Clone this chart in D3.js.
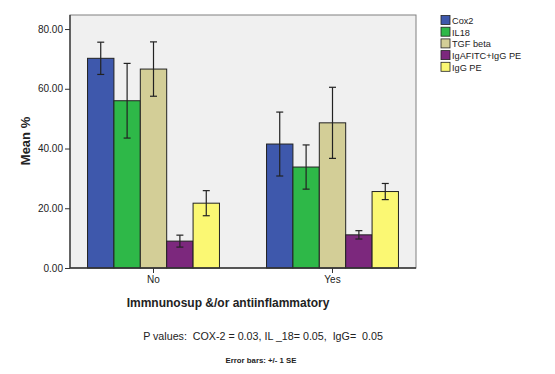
<!DOCTYPE html>
<html lang="en">
<head>
<meta charset="UTF-8">
<title>Mean % by Immnunosup</title>
<script src="https://d3js.org/d3.v7.min.js"></script>
<style>
  body { margin:0; background:#fff; }
  text { font-family: "Liberation Sans", Arial, sans-serif; fill:#222; white-space: pre; }
  .bold { font-weight:bold; }
</style>
</head>
<body>
<script>
var groups = ["No", "Yes"];
var series = ["Cox2", "IL18", "TGF beta", "IgAFITC+IgG PE", "IgG PE"];
var colors = ["#3e58ac", "#2eb848", "#d3ce97", "#7c287d", "#fbf873"];
// mean per series, one value per group
var meanNo  = [70.2, 56.0, 66.6, 9.0, 21.7];
var meanYes = [41.5, 33.8, 48.6, 11.1, 25.6];
// standard error
var seNo  = [5.4, 12.5, 9.1, 2.0, 4.2];
var seYes = [10.7, 7.4, 11.9, 1.4, 2.7];
var yTicks = [0, 20, 40, 60, 80];

var width = 555, height = 374;
var plotLeft = 70, plotTop = 15, plotRight = 416, plotBottom = 268;

var svg = d3.select("body").append("svg")
    .attr("width", width).attr("height", height);

var x0 = d3.scaleBand().domain(groups).range([plotLeft, plotRight])
    .paddingInner(0.263).paddingOuter(0.098);
var x1 = d3.scaleBand().domain(series).range([0, x0.bandwidth()]);
var y = d3.scaleLinear().domain([0, 84.7]).range([plotBottom, plotTop]);

// plot background
svg.append("rect")
    .attr("x", plotLeft).attr("y", plotTop)
    .attr("width", plotRight - plotLeft).attr("height", plotBottom - plotTop)
    .attr("fill", "#f0f0f0").attr("stroke", "#808080").attr("stroke-width", 1);

var data = [];
groups.forEach(function(g, gi) {
  var m = gi == 0 ? meanNo : meanYes;
  var s = gi == 0 ? seNo : seYes;
  series.forEach(function(name, i) {
    data.push({group: g, name: name, color: colors[i], mean: m[i], se: s[i]});
  });
});

svg.append("g").selectAll("rect").data(data).enter().append("rect")
    .attr("x", function(d){ return x0(d.group) + x1(d.name); })
    .attr("y", function(d){ return y(d.mean); })
    .attr("width", x1.bandwidth())
    .attr("height", function(d){ return y(0) - y(d.mean); })
    .attr("fill", function(d){ return d.color; })
    .attr("stroke", "#222").attr("stroke-width", 1);

// error bars
var eb = svg.append("g").attr("stroke", "#222").attr("stroke-width", 1.2);
data.forEach(function(d) {
  var cx = x0(d.group) + x1(d.name) + x1.bandwidth() / 2;
  var y1 = y(d.mean + d.se), y2 = y(d.mean - d.se);
  eb.append("line").attr("x1", cx).attr("x2", cx).attr("y1", y1).attr("y2", y2);
  eb.append("line").attr("x1", cx - 3.5).attr("x2", cx + 3.5).attr("y1", y1).attr("y2", y1);
  eb.append("line").attr("x1", cx - 3.5).attr("x2", cx + 3.5).attr("y1", y2).attr("y2", y2);
});

// axes
var yAxis = d3.axisLeft(y).tickValues(yTicks).tickFormat(d3.format(".2f")).tickSize(5).tickPadding(2);
var ya = svg.append("g").attr("transform", "translate(" + plotLeft + ",0)").call(yAxis);
var xAxis = d3.axisBottom(x0).tickSize(5).tickPadding(3);
var xa = svg.append("g").attr("transform", "translate(0," + plotBottom + ")").call(xAxis);
[ya, xa].forEach(function(a) {
  a.select(".domain").attr("stroke", "#333").attr("stroke-width", 1.3);
  a.selectAll(".tick line").attr("stroke", "#333");
  a.selectAll(".tick text").attr("font-size", 10).attr("fill", "#222")
    .attr("font-family", "Liberation Sans, Arial, sans-serif");
});
xa.select(".domain").attr("d", "M" + plotLeft + ",0H" + plotRight);
ya.select(".domain").attr("d", "M0," + plotTop + "V" + plotBottom);

// titles
svg.append("text").attr("class", "bold")
    .attr("transform", "translate(30,141) rotate(-90)")
    .attr("text-anchor", "middle").attr("font-size", 13).text("Mean %");
svg.append("text").attr("class", "bold")
    .attr("x", 228).attr("y", 307).attr("text-anchor", "middle")
    .attr("font-size", 12).text("Immnunosup &/or antiinflammatory");
svg.append("text")
    .attr("x", 263).attr("y", 340).attr("text-anchor", "middle")
    .attr("font-size", 10.7).text("P values:  COX-2 = 0.03, IL _18= 0.05,  IgG=  0.05");
svg.append("text").attr("class", "bold")
    .attr("x", 261).attr("y", 363).attr("text-anchor", "middle")
    .attr("font-size", 7.8).text("Error bars: +/- 1 SE");

// legend
var lg = svg.append("g").selectAll("g").data(series).enter().append("g")
    .attr("transform", function(d, i){ return "translate(441," + (15.5 + i * 11.7) + ")"; });
lg.append("rect").attr("width", 9).attr("height", 9)
    .attr("fill", function(d, i){ return colors[i]; })
    .attr("stroke", "#222").attr("stroke-width", 0.8);
lg.append("text").attr("x", 11).attr("y", 8.5).attr("font-size", 9.2).text(function(d){ return d; });
</script>
</body>
</html>
